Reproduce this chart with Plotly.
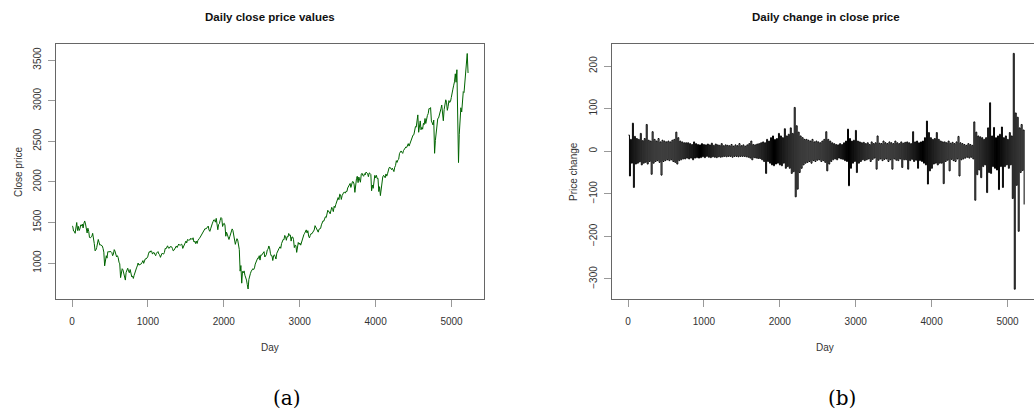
import plotly.graph_objects as go

# ---------------- data ----------------
start_price = 1455

# mid-month close values, 2000-01 .. 2020-09
close_mid = [
    1450, 1390, 1460, 1400, 1400, 1470, 1480, 1490, 1480, 1370, 1390, 1310,   # 2000
    1330, 1320, 1150, 1190, 1290, 1220, 1210, 1180, 965, 1090, 1140, 1140,    # 2001
    1140, 1090, 1165, 1110, 1090, 1010, 820, 930, 870, 790, 910, 900,         # 2002
    920, 830, 810, 890, 940, 1000, 980, 990, 1030, 1040, 1050, 1075,          # 2003
    1140, 1150, 1110, 1130, 1090, 1130, 1110, 1070, 1120, 1110, 1180, 1200,   # 2004
    1185, 1200, 1200, 1150, 1180, 1210, 1230, 1220, 1230, 1180, 1230, 1270,   # 2005
    1290, 1290, 1305, 1290, 1260, 1240, 1240, 1300, 1320, 1365, 1400, 1425,   # 2006
    1430, 1455, 1390, 1470, 1510, 1530, 1550, 1410, 1485, 1560, 1450, 1490,   # 2007
    1330, 1350, 1290, 1370, 1420, 1340, 1230, 1300, 1200, 900, 752, 880,      # 2008
    850, 790, 680, 860, 900, 930, 940, 1010, 1060, 1090, 1100, 1110,          # 2009
    1140, 1100, 1160, 1210, 1120, 1090, 1090, 1080, 1120, 1180, 1200, 1240,   # 2010
    1290, 1340, 1280, 1320, 1340, 1270, 1320, 1190, 1215, 1200, 1230, 1220,   # 2011
    1290, 1350, 1400, 1370, 1330, 1340, 1360, 1405, 1460, 1430, 1380, 1420,   # 2012
    1470, 1520, 1555, 1560, 1650, 1630, 1680, 1660, 1700, 1720, 1790, 1780,   # 2013
    1840, 1830, 1870, 1860, 1880, 1940, 1980, 1960, 2000, 1870, 2040, 1990,   # 2014
    2020, 2095, 2080, 2100, 2120, 2100, 2110, 2090, 1960, 2030, 2050, 2040,   # 2015
    1880, 1830, 2020, 2080, 2050, 2070, 2160, 2180, 2150, 2140, 2180, 2260,   # 2016
    2270, 2350, 2380, 2350, 2400, 2430, 2460, 2440, 2500, 2550, 2580, 2680,   # 2017
    2780, 2610, 2750, 2670, 2720, 2780, 2800, 2840, 2900, 2750, 2700, 2351,   # 2018
    2610, 2780, 2820, 2900, 2850, 2890, 3010, 2880, 3000, 2990, 3120, 3190,   # 2019
    3330, 3380, 2237, 2800, 2860, 3110, 3220, 3380, 3340,                     # 2020
]

# end-of-month close values, 2000-01 .. 2020-08
close_end = [
    1394, 1366, 1499, 1452, 1421, 1455, 1431, 1518, 1437, 1429, 1315, 1320,   # 2000
    1366, 1240, 1160, 1249, 1256, 1224, 1211, 1134, 1041, 1060, 1139, 1148,   # 2001
    1130, 1107, 1147, 1076, 1067, 990, 912, 916, 815, 886, 936, 880,          # 2002
    856, 841, 848, 917, 964, 975, 990, 1008, 996, 1051, 1058, 1112,           # 2003
    1131, 1145, 1126, 1107, 1121, 1141, 1102, 1104, 1115, 1130, 1174, 1212,   # 2004
    1181, 1204, 1181, 1157, 1192, 1191, 1234, 1220, 1229, 1207, 1249, 1248,   # 2005
    1280, 1281, 1295, 1311, 1270, 1270, 1277, 1304, 1336, 1378, 1401, 1418,   # 2006
    1438, 1407, 1421, 1482, 1531, 1503, 1455, 1474, 1527, 1549, 1481, 1468,   # 2007
    1379, 1331, 1323, 1386, 1400, 1280, 1267, 1283, 1166, 969, 896, 903,      # 2008
    826, 735, 798, 873, 919, 919, 987, 1021, 1057, 1036, 1096, 1115,          # 2009
    1074, 1104, 1169, 1187, 1089, 1031, 1102, 1049, 1141, 1183, 1181, 1258,   # 2010
    1286, 1327, 1326, 1364, 1345, 1321, 1292, 1219, 1131, 1253, 1247, 1258,   # 2011
    1312, 1366, 1408, 1398, 1310, 1362, 1379, 1407, 1441, 1412, 1416, 1426,   # 2012
    1498, 1515, 1569, 1598, 1631, 1606, 1686, 1633, 1682, 1757, 1806, 1848,   # 2013
    1783, 1859, 1872, 1884, 1924, 1960, 1931, 2003, 1972, 2018, 2068, 2059,   # 2014
    1995, 2105, 2068, 2086, 2107, 2063, 2104, 1890, 1920, 2079, 2080, 2044,   # 2015
    1940, 1932, 2060, 2065, 2097, 2099, 2174, 2171, 2168, 2126, 2199, 2239,   # 2016
    2279, 2364, 2363, 2384, 2412, 2423, 2470, 2472, 2519, 2575, 2648, 2674,   # 2017
    2824, 2714, 2641, 2648, 2705, 2718, 2816, 2902, 2914, 2712, 2760, 2507,   # 2018
    2704, 2784, 2834, 2946, 2752, 2942, 2980, 2926, 2977, 3038, 3141, 3231,   # 2019
    3226, 2954, 2585, 2912, 3044, 3100, 3271, 3580,                           # 2020
]

# daily change: largest rise / largest fall within each 26-day block
chg_hi = [
    38, 28, 66, 35, 30, 28, 42, 25, 30, 63,
    26, 24, 46, 28, 24, 30, 22, 26, 24, 22,
    24, 22, 26, 28, 45, 32, 24, 22, 20, 20,
    20, 18, 16, 22, 18, 16, 15, 18, 16, 15,
    17, 15, 19, 14, 17, 15, 14, 18, 13, 15,
    14, 13, 16, 12, 15, 13, 18, 13, 15, 12,
    15, 18, 24, 16, 15, 17, 18, 20, 22, 20,
    28, 24, 32, 36, 28, 30, 42, 36, 32, 53,
    36, 40, 55, 42, 103, 60, 45, 36, 32, 28,
    28, 26, 24, 28, 22, 24, 22, 20, 24, 28,
    46, 28, 24, 20, 18, 16, 15, 18, 16, 20,
    24, 52, 30, 24, 26, 49, 24, 22, 20, 21,
    18, 20, 16, 22, 18, 20, 36, 19, 18, 24,
    20, 18, 22, 20, 18, 24, 20, 18, 22, 19,
    21, 22, 20, 18, 46, 22, 24, 20, 22, 24,
    32, 71, 44, 32, 28, 30, 44, 28, 24, 22,
    22, 20, 24, 19, 21, 18, 22, 35, 20, 18,
    16, 14, 18, 16, 14, 69, 45, 36, 34, 32,
    28, 32, 55, 114, 36, 56, 32, 36, 40, 57,
    32, 36, 28, 44, 36, 230, 90, 80, 55, 63, 50,
]
chg_lo = [
    -58, -28, -85, -30, -28, -25, -32, -28, -26, -30,
    -24, -54, -28, -24, -22, -26, -56, -24, -22, -20,
    -22, -20, -24, -26, -30, -22, -20, -18, -18, -16,
    -18, -16, -20, -16, -15, -16, -15, -13, -15, -12,
    -14, -15, -13, -14, -15, -13, -14, -13, -12, -13,
    -12, -12, -14, -12, -12, -13, -12, -12, -12, -13,
    -14, -16, -20, -15, -16, -17, -17, -20, -24, -52,
    -24, -28, -32, -34, -30, -28, -32, -34, -28, -40,
    -36, -40, -52, -48, -107, -89, -50, -40, -32, -28,
    -26, -24, -28, -22, -24, -21, -20, -24, -22, -26,
    -46, -30, -24, -20, -18, -20, -16, -18, -19, -22,
    -24, -81, -40, -28, -24, -50, -28, -24, -20, -22,
    -20, -18, -24, -19, -16, -42, -21, -18, -22, -19,
    -18, -24, -20, -42, -18, -21, -22, -18, -38, -20,
    -20, -42, -22, -19, -24, -21, -40, -22, -24, -28,
    -32, -77, -46, -40, -30, -28, -32, -28, -28, -76,
    -24, -21, -46, -19, -22, -24, -18, -58, -20, -18,
    -16, -14, -16, -14, -18, -115, -55, -44, -62, -36,
    -32, -97, -50, -52, -36, -40, -44, -90, -36, -85,
    -36, -32, -40, -32, -111, -324, -80, -188, -50, -45, -125,
]

x_ticks = [0, 1000, 2000, 3000, 4000, 5000]
close_ticks = [1000, 1500, 2000, 2500, 3000, 3500]
chg_ticks = [-300, -200, -100, 0, 100, 200]

# ---------------- build series ----------------
days_close, price = [0], [start_price]
for m, v in enumerate(close_mid):
    days_close.append(21 * m + 10)
    price.append(v)
    if m < len(close_end):
        days_close.append(21 * m + 20)
        price.append(close_end[m])

days_chg, chg = [], []
for i, (h, l) in enumerate(zip(chg_hi, chg_lo)):
    days_chg += [26 * i + 6, 26 * i + 19]
    chg += [h, l]

# ---------------- figure ----------------
W, H = 1034, 412
FONT = "Liberation Sans, Arial, sans-serif"
TXT = "#333333"

def px(x):
    return x / W

def py(y):
    return (H - y) / H

fig = go.Figure()
fig.add_trace(go.Scatter(x=days_close, y=price, mode="lines",
                         line=dict(color="#006400", width=1),
                         xaxis="x", yaxis="y", showlegend=False, hoverinfo="skip"))
fig.add_trace(go.Scatter(x=days_chg, y=chg, mode="lines",
                         line=dict(color="#000000", width=1, shape="hv"),
                         xaxis="x2", yaxis="y2", showlegend=False, hoverinfo="skip"))

common_x = dict(tickvals=x_ticks, ticks="outside", ticklen=7, tickcolor="#999999",
                showline=True, linecolor="#666666", linewidth=1, mirror=True,
                showgrid=False, zeroline=False, tickfont=dict(family=FONT, size=10, color=TXT),
                ticklabelstandoff=6, fixedrange=True)
common_y = dict(ticks="outside", ticklen=7, tickcolor="#999999", tickangle=-90,
                showline=True, linecolor="#666666", linewidth=1,
                showgrid=False, zeroline=False, tickfont=dict(family=FONT, size=10, color=TXT),
                ticklabelstandoff=3, fixedrange=True)

ydom = [py(299), py(44)]
fig.update_layout(
    width=W, height=H, margin=dict(l=0, r=0, t=0, b=0),
    paper_bgcolor="white", plot_bgcolor="white",
    xaxis=dict(domain=[px(56), px(484)], range=[-211, 5428], anchor="y", **common_x),
    yaxis=dict(domain=ydom, range=[557, 3697], tickvals=close_ticks, anchor="x",
               mirror=True, **common_y),
    xaxis2=dict(domain=[px(612), 1.0], range=[-211, 5349], anchor="y2", **common_x),
    yaxis2=dict(domain=ydom, range=[-347, 252], tickvals=chg_ticks, anchor="x2",
                mirror=False, **common_y),
)

def ann(text, x, y, size=10, bold=False, angle=0, family=FONT, color=TXT):
    fig.add_annotation(text=("<b>%s</b>" % text) if bold else text,
                       x=px(x), y=py(y), xref="paper", yref="paper",
                       showarrow=False, textangle=angle,
                       xanchor="center", yanchor="middle",
                       font=dict(family=family, size=size, color=color))

ann("Daily close price values", 270, 17, size=11.5, bold=True, color="#111111")
ann("Daily change in close price", 826, 17, size=11.5, bold=True, color="#111111")
ann("Day", 270, 347)
ann("Day", 825, 347)
ann("Close price", 18, 172, angle=-90)
ann("Price change", 573, 172, angle=-90)
ann("(a)", 287, 398, size=20, family="DejaVu Serif, Liberation Serif, serif", color="#000000")
ann("(b)", 842, 398, size=20, family="DejaVu Serif, Liberation Serif, serif", color="#000000")

fig.write_html("out.html", config={"displayModeBar": False},
               post_script="document.body.style.margin='0';document.body.style.overflow='hidden';")
